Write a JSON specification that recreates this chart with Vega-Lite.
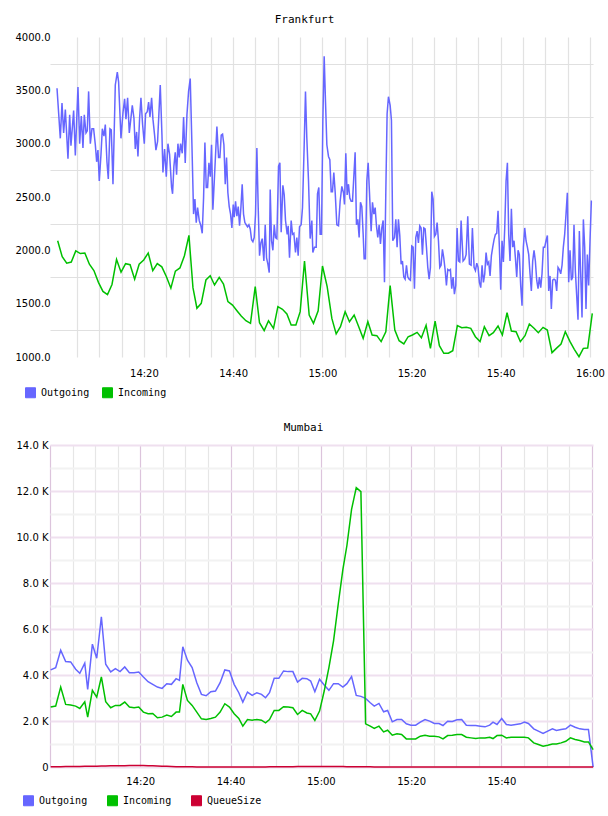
{
  "$schema": "https://vega.github.io/schema/vega-lite/v6.json",
  "background": "white",
  "padding": {"left": 5, "top": 14, "right": 0, "bottom": 0},
  "columns": 1,
  "spacing": 22,
  "resolve": {"scale": {"color": "independent", "x": "independent", "y": "independent"}},
  "config": {
    "view": {"stroke": null},
    "axis": {"labelFont": "DejaVu Sans", "labelFontSize": 10, "labelColor": "#000", "ticks": false, "domain": false, "labelOverlap": false, "labelFlush": false, "labelBound": false},
    "title": {"font": "DejaVu Sans Mono", "fontSize": 11, "fontWeight": "normal", "color": "#000", "anchor": "middle", "offset": 7},
    "legend": {"orient": "none", "direction": "horizontal", "title": null, "symbolType": "square", "symbolSize": 100, "labelFont": "DejaVu Sans Mono", "labelFontSize": 10, "labelColor": "#000", "labelOffset": 5, "padding": 0}
  },
  "concat": [
    {
      "title": {"text": "Frankfurt", "dx": -17},
      "width": 543,
      "height": 320,
      "data": {"values": [
        {"t":0.51,"Outgoing":3520},{"t":1.25,"Outgoing":3050},{"t":1.63,"Outgoing":3380},{"t":2.0,"Outgoing":3100},{"t":2.38,"Outgoing":3320},{"t":2.97,"Outgoing":2860},{"t":3.35,"Outgoing":3270},{"t":3.64,"Outgoing":2980},{"t":4.24,"Outgoing":3310},{"t":4.62,"Outgoing":2890},
        {"t":5.21,"Outgoing":3530},{"t":5.59,"Outgoing":3000},{"t":5.96,"Outgoing":3260},{"t":6.33,"Outgoing":2960},{"t":6.63,"Outgoing":3270},{"t":7.01,"Outgoing":3100},{"t":7.30,"Outgoing":3120},{"t":7.60,"Outgoing":3490},{"t":7.98,"Outgoing":3000},{"t":8.35,"Outgoing":3140},
        {"t":8.72,"Outgoing":3140},{"t":9.10,"Outgoing":2990},{"t":9.40,"Outgoing":2830},{"t":9.69,"Outgoing":2940},{"t":9.99,"Outgoing":2650},{"t":10.37,"Outgoing":2900},{"t":10.67,"Outgoing":3140},{"t":11.04,"Outgoing":3070},{"t":11.34,"Outgoing":3180},{"t":11.71,"Outgoing":2830},
        {"t":12.01,"Outgoing":2670},{"t":12.38,"Outgoing":3140},{"t":12.68,"Outgoing":3130},{"t":13.06,"Outgoing":2620},{"t":13.58,"Outgoing":3550},{"t":14.03,"Outgoing":3670},{"t":14.32,"Outgoing":3580},{"t":14.85,"Outgoing":3050},{"t":15.30,"Outgoing":3290},{"t":15.67,"Outgoing":3420},
        {"t":15.97,"Outgoing":3230},{"t":16.34,"Outgoing":3430},{"t":16.72,"Outgoing":3100},{"t":17.16,"Outgoing":3270},{"t":17.39,"Outgoing":3360},{"t":17.76,"Outgoing":3240},{"t":18.06,"Outgoing":2950},{"t":18.36,"Outgoing":3110},{"t":18.66,"Outgoing":2880},{"t":19.03,"Outgoing":3240},
        {"t":19.33,"Outgoing":3430},{"t":19.70,"Outgoing":3180},{"t":20.08,"Outgoing":3000},{"t":20.37,"Outgoing":3280},{"t":20.75,"Outgoing":3300},{"t":21.05,"Outgoing":3390},{"t":21.35,"Outgoing":3250},{"t":21.72,"Outgoing":3430},{"t":22.02,"Outgoing":3230},{"t":22.39,"Outgoing":3080},
        {"t":22.69,"Outgoing":2940},{"t":23.06,"Outgoing":3020},{"t":23.66,"Outgoing":3550},{"t":24.04,"Outgoing":3080},{"t":24.26,"Outgoing":2730},{"t":24.63,"Outgoing":2950},{"t":25.01,"Outgoing":2690},{"t":25.38,"Outgoing":3000},{"t":25.75,"Outgoing":2900},{"t":26.20,"Outgoing":2590},
        {"t":26.42,"Outgoing":2530},{"t":26.72,"Outgoing":2790},{"t":27.02,"Outgoing":2920},{"t":27.32,"Outgoing":2710},{"t":27.62,"Outgoing":3000},{"t":27.92,"Outgoing":2870},{"t":28.22,"Outgoing":3000},{"t":28.59,"Outgoing":2910},{"t":28.89,"Outgoing":3250},{"t":29.26,"Outgoing":2820},
        {"t":29.64,"Outgoing":3270},{"t":30.01,"Outgoing":3490},{"t":30.38,"Outgoing":3610},{"t":30.76,"Outgoing":2990},{"t":31.13,"Outgoing":2340},{"t":31.43,"Outgoing":2480},{"t":31.73,"Outgoing":2260},{"t":32.03,"Outgoing":2400},{"t":32.40,"Outgoing":2280},{"t":32.77,"Outgoing":2230},
        {"t":33.07,"Outgoing":2160},{"t":33.37,"Outgoing":2490},{"t":33.67,"Outgoing":3010},{"t":33.97,"Outgoing":2590},{"t":34.27,"Outgoing":2590},{"t":34.57,"Outgoing":2820},{"t":34.87,"Outgoing":2690},{"t":35.16,"Outgoing":2990},{"t":35.46,"Outgoing":2380},{"t":36.36,"Outgoing":3160},
        {"t":36.73,"Outgoing":2870},{"t":37.03,"Outgoing":2870},{"t":37.33,"Outgoing":3080},{"t":37.63,"Outgoing":3090},{"t":37.93,"Outgoing":2990},{"t":38.23,"Outgoing":2620},{"t":38.52,"Outgoing":2870},{"t":38.82,"Outgoing":2540},{"t":39.12,"Outgoing":2410},{"t":39.42,"Outgoing":2340},
        {"t":39.72,"Outgoing":2210},{"t":40.02,"Outgoing":2430},{"t":40.24,"Outgoing":2310},{"t":40.54,"Outgoing":2460},{"t":40.84,"Outgoing":2320},{"t":41.14,"Outgoing":2410},{"t":41.44,"Outgoing":2230},{"t":41.74,"Outgoing":2400},{"t":42.03,"Outgoing":2620},{"t":42.33,"Outgoing":2340},
        {"t":42.63,"Outgoing":2260},{"t":42.93,"Outgoing":2240},{"t":43.23,"Outgoing":2220},{"t":43.53,"Outgoing":2240},{"t":43.83,"Outgoing":2200},{"t":44.13,"Outgoing":2100},{"t":44.43,"Outgoing":2080},{"t":44.72,"Outgoing":2120},{"t":45.02,"Outgoing":2340},{"t":45.32,"Outgoing":2960},
        {"t":45.62,"Outgoing":2400},{"t":45.92,"Outgoing":1950},{"t":46.22,"Outgoing":2070},{"t":46.52,"Outgoing":2110},{"t":46.89,"Outgoing":1900},{"t":47.19,"Outgoing":2240},{"t":47.49,"Outgoing":1930},{"t":47.79,"Outgoing":1870},{"t":48.09,"Outgoing":1790},{"t":48.31,"Outgoing":2570},
        {"t":48.61,"Outgoing":2090},{"t":48.91,"Outgoing":2000},{"t":49.21,"Outgoing":2240},{"t":49.50,"Outgoing":2120},{"t":49.80,"Outgoing":2110},{"t":50.18,"Outgoing":2790},{"t":50.48,"Outgoing":2820},{"t":50.77,"Outgoing":2170},{"t":51.15,"Outgoing":2610},{"t":51.45,"Outgoing":2520},
        {"t":51.74,"Outgoing":2280},{"t":52.12,"Outgoing":2150},{"t":52.34,"Outgoing":2230},{"t":52.64,"Outgoing":1930},{"t":53.01,"Outgoing":2280},{"t":53.31,"Outgoing":2150},{"t":53.61,"Outgoing":2160},{"t":53.98,"Outgoing":1980},{"t":54.28,"Outgoing":2120},{"t":54.58,"Outgoing":1950},
        {"t":54.88,"Outgoing":2220},{"t":55.25,"Outgoing":2240},{"t":55.55,"Outgoing":2400},{"t":55.93,"Outgoing":2990},{"t":56.22,"Outgoing":3490},{"t":56.52,"Outgoing":3050},{"t":56.90,"Outgoing":2650},{"t":57.27,"Outgoing":2110},{"t":57.65,"Outgoing":2280},{"t":57.87,"Outgoing":1980},
        {"t":58.24,"Outgoing":2030},{"t":58.62,"Outgoing":2030},{"t":58.91,"Outgoing":2530},{"t":59.21,"Outgoing":2590},{"t":59.51,"Outgoing":2150},{"t":59.81,"Outgoing":2150},{"t":60.11,"Outgoing":3210},{"t":60.41,"Outgoing":3820},{"t":60.71,"Outgoing":3390},{"t":61.01,"Outgoing":2990},
        {"t":61.38,"Outgoing":2880},{"t":61.68,"Outgoing":2850},{"t":61.98,"Outgoing":2550},{"t":62.27,"Outgoing":2550},{"t":62.57,"Outgoing":2730},{"t":62.87,"Outgoing":2550},{"t":63.25,"Outgoing":2240},{"t":63.62,"Outgoing":2230},{"t":63.99,"Outgoing":2460},{"t":64.37,"Outgoing":2600},
        {"t":64.74,"Outgoing":2540},{"t":64.96,"Outgoing":2430},{"t":65.26,"Outgoing":2910},{"t":65.56,"Outgoing":2520},{"t":65.86,"Outgoing":2620},{"t":66.16,"Outgoing":2490},{"t":66.46,"Outgoing":2460},{"t":66.76,"Outgoing":2460},{"t":67.35,"Outgoing":2920},{"t":67.65,"Outgoing":2240},
        {"t":67.95,"Outgoing":2290},{"t":68.25,"Outgoing":2120},{"t":68.55,"Outgoing":2450},{"t":68.85,"Outgoing":2410},{"t":69.15,"Outgoing":2150},{"t":69.37,"Outgoing":1920},{"t":69.67,"Outgoing":1920},{"t":69.97,"Outgoing":2650},{"t":70.27,"Outgoing":2820},{"t":70.56,"Outgoing":2550},
        {"t":70.94,"Outgoing":2180},{"t":71.24,"Outgoing":2450},{"t":71.54,"Outgoing":2340},{"t":71.84,"Outgoing":2400},{"t":72.13,"Outgoing":2230},{"t":72.43,"Outgoing":2120},{"t":72.73,"Outgoing":2240},{"t":73.03,"Outgoing":2060},{"t":73.33,"Outgoing":2210},{"t":73.63,"Outgoing":2280},
        {"t":73.93,"Outgoing":1700},{"t":74.23,"Outgoing":2550},{"t":74.52,"Outgoing":3280},{"t":74.82,"Outgoing":3440},{"t":75.20,"Outgoing":3360},{"t":75.49,"Outgoing":3220},{"t":75.79,"Outgoing":2090},{"t":76.17,"Outgoing":2120},{"t":76.47,"Outgoing":2290},{"t":76.76,"Outgoing":2030},
        {"t":77.06,"Outgoing":2290},{"t":77.36,"Outgoing":2140},{"t":77.66,"Outgoing":1870},{"t":77.96,"Outgoing":1900},{"t":78.26,"Outgoing":1750},{"t":78.56,"Outgoing":1730},{"t":78.86,"Outgoing":1860},{"t":79.16,"Outgoing":1750},{"t":79.46,"Outgoing":1730},{"t":79.75,"Outgoing":1720},
        {"t":80.05,"Outgoing":2040},{"t":80.35,"Outgoing":2030},{"t":80.65,"Outgoing":1640},{"t":80.95,"Outgoing":2120},{"t":81.25,"Outgoing":2180},{"t":81.54,"Outgoing":2070},{"t":81.84,"Outgoing":2230},{"t":82.14,"Outgoing":2210},{"t":82.44,"Outgoing":1960},{"t":82.74,"Outgoing":2210},
        {"t":83.04,"Outgoing":2200},{"t":83.34,"Outgoing":2030},{"t":83.64,"Outgoing":1840},{"t":83.94,"Outgoing":1730},{"t":84.23,"Outgoing":1840},{"t":84.53,"Outgoing":2550},{"t":84.83,"Outgoing":2480},{"t":85.13,"Outgoing":2130},{"t":85.43,"Outgoing":2150},{"t":85.73,"Outgoing":2260},
        {"t":86.03,"Outgoing":2090},{"t":86.33,"Outgoing":1840},{"t":86.62,"Outgoing":1860},{"t":86.92,"Outgoing":2010},{"t":87.22,"Outgoing":1930},{"t":87.52,"Outgoing":1820},{"t":87.82,"Outgoing":1670},{"t":88.12,"Outgoing":1820},{"t":88.42,"Outgoing":1810},{"t":88.71,"Outgoing":1820},
        {"t":89.01,"Outgoing":1640},{"t":89.31,"Outgoing":1750},{"t":89.61,"Outgoing":1590},{"t":89.91,"Outgoing":1670},{"t":90.21,"Outgoing":2210},{"t":90.51,"Outgoing":1900},{"t":90.81,"Outgoing":1890},{"t":91.11,"Outgoing":2280},{"t":91.55,"Outgoing":1900},{"t":91.93,"Outgoing":1920},
        {"t":92.23,"Outgoing":1960},{"t":92.60,"Outgoing":2320},{"t":92.97,"Outgoing":1870},{"t":93.35,"Outgoing":1860},{"t":93.64,"Outgoing":2210},{"t":94.02,"Outgoing":1840},{"t":94.32,"Outgoing":1810},{"t":94.62,"Outgoing":1880},{"t":94.91,"Outgoing":1840},{"t":95.21,"Outgoing":1700},
        {"t":95.51,"Outgoing":1650},{"t":95.81,"Outgoing":1860},{"t":96.11,"Outgoing":1700},{"t":96.41,"Outgoing":1780},{"t":96.71,"Outgoing":1980},{"t":97.00,"Outgoing":1870},{"t":97.30,"Outgoing":1890},{"t":97.60,"Outgoing":1760},{"t":97.90,"Outgoing":1950},{"t":98.20,"Outgoing":2030},
        {"t":98.50,"Outgoing":2100},{"t":98.80,"Outgoing":2150},{"t":99.10,"Outgoing":2160},{"t":99.39,"Outgoing":2370},{"t":99.69,"Outgoing":2030},{"t":99.99,"Outgoing":1630},{"t":100.29,"Outgoing":2090},{"t":100.59,"Outgoing":1890},{"t":100.89,"Outgoing":2210},{"t":101.19,"Outgoing":2650},
        {"t":101.49,"Outgoing":2820},{"t":101.78,"Outgoing":2150},{"t":102.08,"Outgoing":1900},{"t":102.38,"Outgoing":2390},{"t":102.68,"Outgoing":2030},{"t":102.98,"Outgoing":2090},{"t":103.28,"Outgoing":1930},{"t":103.58,"Outgoing":1750},{"t":103.88,"Outgoing":2000},{"t":104.17,"Outgoing":1960},
        {"t":104.47,"Outgoing":1670},{"t":104.77,"Outgoing":1480},{"t":105.07,"Outgoing":2030},{"t":105.37,"Outgoing":2210},{"t":105.67,"Outgoing":2090},{"t":105.97,"Outgoing":2030},{"t":106.27,"Outgoing":1960},{"t":106.56,"Outgoing":1780},{"t":106.86,"Outgoing":1620},{"t":107.16,"Outgoing":1900},
        {"t":107.46,"Outgoing":2000},{"t":107.76,"Outgoing":1900},{"t":108.06,"Outgoing":1720},{"t":108.36,"Outgoing":1640},{"t":108.66,"Outgoing":1750},{"t":108.96,"Outgoing":1650},{"t":109.25,"Outgoing":1780},{"t":109.55,"Outgoing":2030},{"t":109.85,"Outgoing":2030},{"t":110.15,"Outgoing":2090},
        {"t":110.45,"Outgoing":2140},{"t":110.75,"Outgoing":1620},{"t":111.05,"Outgoing":1760},{"t":111.34,"Outgoing":1450},{"t":111.64,"Outgoing":1720},{"t":111.94,"Outgoing":1730},{"t":112.24,"Outgoing":1720},{"t":112.54,"Outgoing":1620},{"t":112.84,"Outgoing":1840},{"t":113.14,"Outgoing":1820},
        {"t":113.44,"Outgoing":1780},{"t":113.74,"Outgoing":1860},{"t":114.03,"Outgoing":2030},{"t":114.33,"Outgoing":2150},{"t":114.63,"Outgoing":2340},{"t":114.93,"Outgoing":2540},{"t":115.23,"Outgoing":1700},{"t":115.53,"Outgoing":2000},{"t":115.83,"Outgoing":1720},{"t":116.13,"Outgoing":1750},
        {"t":116.42,"Outgoing":2240},{"t":116.72,"Outgoing":1810},{"t":117.02,"Outgoing":1580},{"t":117.32,"Outgoing":1350},{"t":117.62,"Outgoing":2180},{"t":117.92,"Outgoing":1780},{"t":118.22,"Outgoing":1370},{"t":118.52,"Outgoing":2290},{"t":118.82,"Outgoing":2030},{"t":119.11,"Outgoing":1450},
        {"t":119.41,"Outgoing":1960},{"t":119.71,"Outgoing":1670},{"t":120.01,"Outgoing":2090},{"t":120.31,"Outgoing":2460},{"t":120.45,"Outgoing":2460},
        {"t":0.66,"Incoming":2090},{"t":1.68,"Incoming":1940},{"t":2.69,"Incoming":1880},{"t":3.71,"Incoming":1890},{"t":4.72,"Incoming":1995},{"t":5.74,"Incoming":1970},{"t":6.75,"Incoming":1975},{"t":7.77,"Incoming":1870},{"t":8.78,"Incoming":1810},{"t":9.80,"Incoming":1700},
        {"t":10.81,"Incoming":1615},{"t":11.83,"Incoming":1585},{"t":12.84,"Incoming":1680},{"t":13.86,"Incoming":1915},{"t":14.87,"Incoming":1795},{"t":15.89,"Incoming":1875},{"t":16.90,"Incoming":1865},{"t":17.92,"Incoming":1730},{"t":18.93,"Incoming":1870},{"t":19.95,"Incoming":1910},
        {"t":20.96,"Incoming":1975},{"t":21.98,"Incoming":1810},{"t":22.99,"Incoming":1875},{"t":24.01,"Incoming":1845},{"t":25.02,"Incoming":1755},{"t":26.04,"Incoming":1645},{"t":27.05,"Incoming":1805},{"t":28.07,"Incoming":1835},{"t":29.08,"Incoming":1950},{"t":30.09,"Incoming":2140},
        {"t":30.99,"Incoming":1650},{"t":31.88,"Incoming":1457},{"t":32.85,"Incoming":1503},{"t":33.90,"Incoming":1722},{"t":34.86,"Incoming":1762},{"t":35.83,"Incoming":1675},{"t":36.88,"Incoming":1747},{"t":37.84,"Incoming":1684},{"t":38.83,"Incoming":1519},{"t":39.86,"Incoming":1487},
        {"t":40.85,"Incoming":1434},{"t":41.81,"Incoming":1384},{"t":42.86,"Incoming":1340},{"t":43.89,"Incoming":1316},{"t":44.95,"Incoming":1659},{"t":45.91,"Incoming":1322},{"t":46.96,"Incoming":1247},{"t":47.93,"Incoming":1340},{"t":49.05,"Incoming":1269},{"t":50.03,"Incoming":1472},
        {"t":51.06,"Incoming":1447},{"t":52.05,"Incoming":1403},{"t":53.01,"Incoming":1300},{"t":54.07,"Incoming":1300},{"t":55.03,"Incoming":1425},{"t":56.00,"Incoming":1900},{"t":57.05,"Incoming":1394},{"t":58.01,"Incoming":1316},{"t":59.06,"Incoming":1434},{"t":60.03,"Incoming":1853},
        {"t":61.08,"Incoming":1659},{"t":62.13,"Incoming":1362},{"t":63.10,"Incoming":1216},{"t":64.06,"Incoming":1284},{"t":65.11,"Incoming":1425},{"t":66.08,"Incoming":1331},{"t":67.13,"Incoming":1394},{"t":68.09,"Incoming":1291},{"t":69.15,"Incoming":1175},{"t":70.20,"Incoming":1331},
        {"t":71.16,"Incoming":1206},{"t":72.22,"Incoming":1200},{"t":73.18,"Incoming":1144},{"t":74.23,"Incoming":1237},{"t":75.20,"Incoming":1669},{"t":76.25,"Incoming":1253},{"t":77.21,"Incoming":1153},{"t":78.27,"Incoming":1122},{"t":79.23,"Incoming":1190},{"t":80.19,"Incoming":1206},
        {"t":81.25,"Incoming":1231},{"t":82.21,"Incoming":1181},{"t":83.26,"Incoming":1297},{"t":84.23,"Incoming":1081},{"t":85.28,"Incoming":1337},{"t":86.24,"Incoming":1106},{"t":87.23,"Incoming":1035},{"t":88.26,"Incoming":1035},{"t":89.24,"Incoming":1059},{"t":90.27,"Incoming":1294},
        {"t":91.26,"Incoming":1275},{"t":92.29,"Incoming":1278},{"t":93.28,"Incoming":1269},{"t":94.31,"Incoming":1190},{"t":95.36,"Incoming":1144},{"t":96.32,"Incoming":1284},{"t":97.38,"Incoming":1200},{"t":98.34,"Incoming":1228},{"t":99.39,"Incoming":1291},{"t":100.36,"Incoming":1206},
        {"t":101.41,"Incoming":1415},{"t":102.38,"Incoming":1244},{"t":103.43,"Incoming":1237},{"t":104.39,"Incoming":1144},{"t":105.44,"Incoming":1200},{"t":106.41,"Incoming":1309},{"t":107.46,"Incoming":1269},{"t":108.42,"Incoming":1228},{"t":109.48,"Incoming":1278},{"t":110.44,"Incoming":1253},
        {"t":111.49,"Incoming":1041},{"t":112.46,"Incoming":1081},{"t":113.51,"Incoming":1122},{"t":114.47,"Incoming":1237},{"t":115.53,"Incoming":1144},{"t":116.49,"Incoming":1072},{"t":117.54,"Incoming":1003},{"t":118.51,"Incoming":1081},{"t":119.49,"Incoming":1084},{"t":120.52,"Incoming":1409}
      ]},
      "transform": [
        {"fold": ["Outgoing", "Incoming"], "as": ["series", "value"]},
        {"filter": "isValid(datum.value)"}
      ],
      "mark": {"type": "line", "strokeWidth": 1.5},
      "encoding": {
        "x": {"field": "t", "type": "quantitative", "title": null,
          "scale": {"domain": [-1.06, 120.68], "nice": false, "zero": false},
          "axis": {"values": [5,10,15,20,25,30,35,40,45,50,55,60,65,70,75,80,85,90,95,100,105,110,115,120],
            "labelExpr": "datum.value % 20 === 0 ? timeFormat(datetime(2000,0,1,14,datum.value), '%H:%M') : ''",
            "grid": true, "gridColor": "#e2e2e2", "gridWidth": 1.2, "labelPadding": 11}},
        "y": {"field": "value", "type": "quantitative", "title": null,
          "scale": {"domain": [1000, 4000], "nice": false, "zero": false},
          "axis": {"values": [1000,1250,1500,1750,2000,2250,2500,2750,3000,3250,3500,3750,4000],
            "labelExpr": "datum.value % 500 === 0 ? format(datum.value, '.1f') : ''",
            "grid": true, "gridColor": "#e0e0e0", "gridWidth": 1.2,
            "gridOpacity": {"condition": {"test": "datum.value % 500 === 0", "value": 0}, "value": 1},
            "labelPadding": 0, "minExtent": 45, "maxExtent": 45}},
        "color": {"field": "series", "type": "nominal",
          "scale": {"domain": ["Outgoing", "Incoming"], "range": ["#6666ff", "#00c000"]},
          "legend": {"legendX": -25, "legendY": 350, "columnPadding": 10,
            "encode": {"symbols": {"update": {"fill": {"signal": "datum.value === 'Outgoing' ? '#6666ff' : '#00c000'"}, "fillOpacity": {"value": 1}, "stroke": {"value": "#8a8a8a"}, "strokeWidth": {"value": 1}, "opacity": {"value": 1}}}}}}
      }
    },
    {
      "title": {"text": "Mumbai", "dx": -18},
      "width": 543,
      "height": 322,
      "data": {"values": [
        {"t":0.15,"Outgoing":4220,"Incoming":2604,"QueueSize":10},{"t":1.26,"Outgoing":4321,"Incoming":2648,"QueueSize":12},{"t":2.37,"Outgoing":5078,"Incoming":3477,"QueueSize":15},{"t":3.47,"Outgoing":4583,"Incoming":2721,"QueueSize":18},{"t":4.58,"Outgoing":4569,"Incoming":2692,"QueueSize":20},
        {"t":5.69,"Outgoing":4249,"Incoming":2648,"QueueSize":22},{"t":6.6,"Outgoing":4074,"Incoming":2546,"QueueSize":25},{"t":7.7,"Outgoing":4511,"Incoming":2837,"QueueSize":28},{"t":8.35,"Outgoing":3376,"Incoming":2168,"QueueSize":30},{"t":9.39,"Outgoing":5340,"Incoming":3332,"QueueSize":35},
        {"t":10.35,"Outgoing":4729,"Incoming":3041,"QueueSize":38},{"t":11.38,"Outgoing":6533,"Incoming":3914,"QueueSize":42},{"t":12.34,"Outgoing":4467,"Incoming":2837,"QueueSize":45},{"t":13.45,"Outgoing":4132,"Incoming":2575,"QueueSize":50},{"t":14.49,"Outgoing":4278,"Incoming":2677,"QueueSize":52},
        {"t":15.52,"Outgoing":4147,"Incoming":2677,"QueueSize":55},{"t":16.56,"Outgoing":4350,"Incoming":2823,"QueueSize":58},{"t":17.59,"Outgoing":4103,"Incoming":2604,"QueueSize":60},{"t":18.63,"Outgoing":4103,"Incoming":2575,"QueueSize":62},{"t":19.66,"Outgoing":4132,"Incoming":2604,"QueueSize":65},
        {"t":20.69,"Outgoing":3914,"Incoming":2386,"QueueSize":62},{"t":21.73,"Outgoing":3710,"Incoming":2313,"QueueSize":58},{"t":22.76,"Outgoing":3594,"Incoming":2328,"QueueSize":50},{"t":23.80,"Outgoing":3477,"Incoming":2139,"QueueSize":42},{"t":24.83,"Outgoing":3419,"Incoming":2168,"QueueSize":35},
        {"t":25.87,"Outgoing":3623,"Incoming":2255,"QueueSize":28},{"t":26.90,"Outgoing":3594,"Incoming":2197,"QueueSize":20},{"t":27.94,"Outgoing":3841,"Incoming":2386,"QueueSize":15},{"t":28.68,"Outgoing":3768,"Incoming":2386,"QueueSize":12},{"t":29.42,"Outgoing":5223,"Incoming":3594,"QueueSize":10},
        {"t":30.45,"Outgoing":4641,"Incoming":2895,"QueueSize":8},{"t":31.49,"Outgoing":4321,"Incoming":2677,"QueueSize":6},{"t":32.52,"Outgoing":3667,"Incoming":2386,"QueueSize":5},{"t":33.55,"Outgoing":3157,"Incoming":2095,"QueueSize":5},{"t":34.59,"Outgoing":3099,"Incoming":2066,"QueueSize":5},
        {"t":35.62,"Outgoing":3274,"Incoming":2110,"QueueSize":5},{"t":36.66,"Outgoing":3303,"Incoming":2168,"QueueSize":5},{"t":37.69,"Outgoing":3667,"Incoming":2386,"QueueSize":5},{"t":38.73,"Outgoing":4220,"Incoming":2750,"QueueSize":5},{"t":39.76,"Outgoing":4176,"Incoming":2604,"QueueSize":5},
        {"t":40.80,"Outgoing":3594,"Incoming":2313,"QueueSize":5},{"t":41.83,"Outgoing":3230,"Incoming":2110,"QueueSize":5},{"t":42.72,"Outgoing":2823,"Incoming":1775,"QueueSize":5},{"t":43.75,"Outgoing":3259,"Incoming":2066,"QueueSize":5},{"t":44.79,"Outgoing":3114,"Incoming":2037,"QueueSize":5},
        {"t":45.82,"Outgoing":3230,"Incoming":2066,"QueueSize":5},{"t":46.86,"Outgoing":3157,"Incoming":2037,"QueueSize":5},{"t":47.75,"Outgoing":3012,"Incoming":1921,"QueueSize":5},{"t":48.63,"Outgoing":3230,"Incoming":2066,"QueueSize":6},{"t":49.67,"Outgoing":3856,"Incoming":2459,"QueueSize":8},
        {"t":50.70,"Outgoing":3856,"Incoming":2459,"QueueSize":10},{"t":51.74,"Outgoing":4176,"Incoming":2619,"QueueSize":12},{"t":52.77,"Outgoing":4147,"Incoming":2604,"QueueSize":14},{"t":53.81,"Outgoing":4147,"Incoming":2575,"QueueSize":16},{"t":54.84,"Outgoing":3696,"Incoming":2284,"QueueSize":18},
        {"t":55.88,"Outgoing":3856,"Incoming":2459,"QueueSize":20},{"t":56.91,"Outgoing":3841,"Incoming":2350,"QueueSize":22},{"t":57.75,"Outgoing":3739,"Incoming":2313,"QueueSize":24},{"t":58.68,"Outgoing":3274,"Incoming":2022,"QueueSize":25},{"t":59.72,"Outgoing":3812,"Incoming":2430,"QueueSize":25},
        {"t":60.75,"Outgoing":3565,"Incoming":3303,"QueueSize":25},{"t":61.79,"Outgoing":3332,"Incoming":4321,"QueueSize":24},{"t":62.82,"Outgoing":3623,"Incoming":5485,"QueueSize":22},{"t":63.86,"Outgoing":3623,"Incoming":7086,"QueueSize":20},{"t":64.89,"Outgoing":3477,"Incoming":8592,"QueueSize":18},
        {"t":65.78,"Outgoing":3623,"Incoming":9630,"QueueSize":16},{"t":66.81,"Outgoing":3929,"Incoming":11200,"QueueSize":14},{"t":67.85,"Outgoing":3114,"Incoming":12144,"QueueSize":12},{"t":68.88,"Outgoing":3070,"Incoming":11970,"QueueSize":10},{"t":69.92,"Outgoing":2983,"Incoming":1877,"QueueSize":8},
        {"t":70.95,"Outgoing":2794,"Incoming":1775,"QueueSize":6},{"t":71.84,"Outgoing":2648,"Incoming":1673,"QueueSize":5},{"t":72.88,"Outgoing":2765,"Incoming":1775,"QueueSize":5},{"t":73.91,"Outgoing":2401,"Incoming":1528,"QueueSize":4},{"t":74.80,"Outgoing":2459,"Incoming":1600,"QueueSize":4},
        {"t":75.83,"Outgoing":1964,"Incoming":1382,"QueueSize":3},{"t":76.87,"Outgoing":2066,"Incoming":1440,"QueueSize":3},{"t":77.90,"Outgoing":2066,"Incoming":1411,"QueueSize":3},{"t":78.94,"Outgoing":1877,"Incoming":1222,"QueueSize":3},{"t":79.97,"Outgoing":1819,"Incoming":1222,"QueueSize":3},
        {"t":81.01,"Outgoing":1819,"Incoming":1222,"QueueSize":3},{"t":82.04,"Outgoing":1950,"Incoming":1339,"QueueSize":3},{"t":83.08,"Outgoing":2066,"Incoming":1382,"QueueSize":3},{"t":84.11,"Outgoing":1993,"Incoming":1339,"QueueSize":3},{"t":85.14,"Outgoing":1892,"Incoming":1339,"QueueSize":3},
        {"t":86.18,"Outgoing":1892,"Incoming":1310,"QueueSize":3},{"t":87.07,"Outgoing":1804,"Incoming":1222,"QueueSize":3},{"t":88.10,"Outgoing":1993,"Incoming":1368,"QueueSize":3},{"t":89.14,"Outgoing":1979,"Incoming":1382,"QueueSize":3},{"t":90.17,"Outgoing":2052,"Incoming":1411,"QueueSize":3},
        {"t":91.21,"Outgoing":2066,"Incoming":1411,"QueueSize":3},{"t":92.24,"Outgoing":1819,"Incoming":1295,"QueueSize":3},{"t":93.27,"Outgoing":1804,"Incoming":1266,"QueueSize":3},{"t":94.31,"Outgoing":1804,"Incoming":1237,"QueueSize":3},{"t":95.34,"Outgoing":1775,"Incoming":1266,"QueueSize":3},
        {"t":96.38,"Outgoing":1746,"Incoming":1266,"QueueSize":3},{"t":97.41,"Outgoing":1819,"Incoming":1295,"QueueSize":3},{"t":98.15,"Outgoing":1950,"Incoming":1237,"QueueSize":3},{"t":99.04,"Outgoing":1848,"Incoming":1368,"QueueSize":3},{"t":100.07,"Outgoing":2110,"Incoming":1382,"QueueSize":3},
        {"t":101.11,"Outgoing":1848,"Incoming":1266,"QueueSize":3},{"t":102.14,"Outgoing":1819,"Incoming":1295,"QueueSize":3},{"t":103.18,"Outgoing":1848,"Incoming":1295,"QueueSize":3},{"t":104.21,"Outgoing":1877,"Incoming":1295,"QueueSize":3},{"t":105.10,"Outgoing":1950,"Incoming":1295,"QueueSize":3},
        {"t":105.99,"Outgoing":1892,"Incoming":1266,"QueueSize":3},{"t":107.17,"Outgoing":1659,"Incoming":1048,"QueueSize":3},{"t":108.20,"Outgoing":1557,"Incoming":975,"QueueSize":3},{"t":109.24,"Outgoing":1455,"Incoming":902,"QueueSize":3},{"t":110.27,"Outgoing":1557,"Incoming":946,"QueueSize":3},
        {"t":111.31,"Outgoing":1659,"Incoming":1004,"QueueSize":3},{"t":112.20,"Outgoing":1586,"Incoming":1004,"QueueSize":3},{"t":113.23,"Outgoing":1630,"Incoming":1048,"QueueSize":3},{"t":114.27,"Outgoing":1659,"Incoming":1120,"QueueSize":3},{"t":115.30,"Outgoing":1819,"Incoming":1266,"QueueSize":3},
        {"t":116.34,"Outgoing":1731,"Incoming":1193,"QueueSize":3},{"t":117.37,"Outgoing":1659,"Incoming":1149,"QueueSize":3},{"t":118.40,"Outgoing":1630,"Incoming":1091,"QueueSize":3},{"t":119.29,"Outgoing":1630,"Incoming":1091,"QueueSize":3},{"t":120.33,"Outgoing":0,"Incoming":757,"QueueSize":0}
      ]},
      "transform": [
        {"fold": ["Outgoing", "Incoming", "QueueSize"], "as": ["series", "value"]},
        {"filter": "isValid(datum.value)"}
      ],
      "mark": {"type": "line", "strokeWidth": 1.5},
      "encoding": {
        "x": {"field": "t", "type": "quantitative", "title": null,
          "scale": {"domain": [0, 120.3], "nice": false, "zero": false},
          "axis": {"values": [0,5,10,15,20,25,30,35,40,45,50,55,60,65,70,75,80,85,90,95,100,105,110,115,120],
            "labelExpr": "datum.value % 20 === 0 && datum.value > 0 && datum.value < 120 ? timeFormat(datetime(2000,0,1,14,datum.value), '%H:%M') : ''",
            "grid": true, "gridWidth": 1.2,
            "gridColor": {"condition": {"test": "datum.value % 20 === 0", "value": "#dcc4dc"}, "value": "#e6e6e6"},
            "labelPadding": 9}},
        "y": {"field": "value", "type": "quantitative", "title": null,
          "scale": {"domain": [0, 14000], "nice": false, "zero": false},
          "axis": {"values": [0,1000,2000,3000,4000,5000,6000,7000,8000,9000,10000,11000,12000,13000,14000],
            "labelExpr": "datum.value % 2000 === 0 ? (datum.value === 0 ? '0' : format(datum.value / 1000, '.1f') + ' K') : ''",
            "grid": true, "gridWidth": 2,
            "gridColor": {"condition": {"test": "datum.value % 2000 === 0", "value": "#efe0ef"}, "value": "#f2f2f2"},
            "labelPadding": 2, "minExtent": 45, "maxExtent": 45}},
        "color": {"field": "series", "type": "nominal",
          "scale": {"domain": ["Outgoing", "Incoming", "QueueSize"], "range": ["#6666ff", "#00c000", "#cc0033"]},
          "legend": {"legendX": -27, "legendY": 350, "columnPadding": 17,
            "encode": {"symbols": {"update": {"fill": {"signal": "datum.value === 'Outgoing' ? '#6666ff' : datum.value === 'Incoming' ? '#00c000' : '#cc0033'"}, "fillOpacity": {"value": 1}, "stroke": {"value": "#8a8a8a"}, "strokeWidth": {"value": 1}, "opacity": {"value": 1}}}}}}
      }
    }
  ]
}
